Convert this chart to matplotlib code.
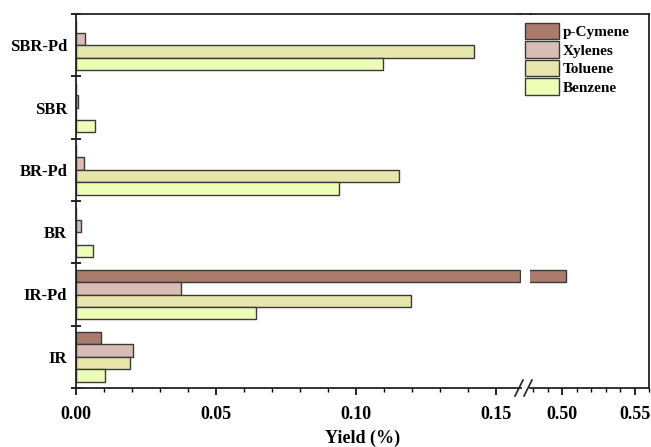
import numpy as np
import matplotlib
matplotlib.use("Agg")
import matplotlib.pyplot as plt
from matplotlib.lines import Line2D

plt.rcParams['font.family'] = ['Liberation Serif', 'DejaVu Serif']
plt.rcParams['font.weight'] = 'bold'

samples = ['IR', 'IR-Pd', 'BR', 'BR-Pd', 'SBR', 'SBR-Pd']
cymene = [0.009, 0.503, 0.0, 0.0, 0.0, 0.0]
xylenes = [0.0207, 0.0377, 0.0019, 0.0032, 0.001, 0.0035]
toluene = [0.0195, 0.1197, 0.0, 0.1155, 0.0, 0.1422]
benzene = [0.0107, 0.0644, 0.0064, 0.0941, 0.0069, 0.1097]

series = [('p-Cymene', cymene, '#a97c6c'),
          ('Xylenes', xylenes, '#d8bdb7'),
          ('Toluene', toluene, '#e6e5ab'),
          ('Benzene', benzene, '#ecfdb6')]
offsets = [0.3, 0.1, -0.1, -0.3]

fig = plt.figure(figsize=(6.51, 4.47), dpi=100)
W, H = 651.0, 447.0
bot = 1 - 388 / H
top = 1 - 14 / H
# broken x axis: left part 0..0.159, right part 0.478..0.5588
left_max = 0.159
ax1 = fig.add_axes([75.5 / W, bot, (521 - 75.5) / W, top - bot])
ax2 = fig.add_axes([530 / W, bot, (649 - 530) / W, top - bot])

y = np.arange(len(samples))
for ax in (ax1, ax2):
    for (name, vals, col), off in zip(series, offsets):
        vals = np.array(vals)
        if ax is ax1:
            # close the bar at the break, like the original
            vals = np.minimum(vals, left_max - 0.0004)
        ax.barh(y + off, vals, height=0.2, color=col, edgecolor='#3a3a3a',
                linewidth=1.0, label=name)
    ax.set_ylim(-0.5, 5.5)

ax1.set_xlim(0, left_max)
ax2.set_xlim(0.4779, 0.5588)

ax1.set_xticks([0, 0.05, 0.10, 0.15])
ax1.set_xticks(np.arange(0, 0.16, 0.01), minor=True)
ax2.set_xticks([0.50, 0.55])
ax2.set_xticks(np.arange(0.48, 0.56, 0.01), minor=True)
for ax in (ax1, ax2):
    ax.xaxis.set_major_formatter(matplotlib.ticker.FormatStrFormatter('%.2f'))
    ax.tick_params(axis='x', which='major', direction='out', length=5, width=1.2,
                   labelsize=13, pad=8)
    ax.tick_params(axis='x', which='minor', direction='out', length=3, width=1)
    for lab in ax.get_xticklabels():
        lab.set_fontweight('bold')

ax1.set_yticks(y)
ax1.set_yticklabels(samples, fontsize=12, fontweight='bold')
ax1.set_yticks(np.arange(-0.5, 5.6, 1.0), minor=True)
ax1.tick_params(axis='y', which='major', length=0, pad=6)
ax1.tick_params(axis='y', which='minor', direction='inout', length=7, width=1.2)
ax2.set_yticks([])

ax1.spines['right'].set_visible(False)
ax2.spines['left'].set_visible(False)
for ax in (ax1, ax2):
    for s in ax.spines.values():
        s.set_linewidth(1.3)
        s.set_color('#222222')

# join the top spine across the gap
fig.add_artist(Line2D([520 / W, 531 / W], [top, top], color='#222222', lw=1.3))
# break marks on the bottom axis
for x0 in (515, 524):
    fig.add_artist(Line2D([x0 / W, (x0 + 8) / W], [1 - 396 / H, 1 - 380 / H],
                          color='#222222', lw=1.2))

fig.text((75.5 + 649) / 2 / W, 1 - 438 / H, 'Yield (%)', ha='center', va='center',
         fontsize=13, fontweight='bold')

ax2.legend(loc='upper right', bbox_to_anchor=(0.93, 1.005), frameon=False,
           fontsize=11, handlelength=2.2, handleheight=1.3, labelspacing=0.12,
           handletextpad=0.3, borderaxespad=0.3)
leg = ax2.get_legend()
for t in leg.get_texts():
    t.set_fontweight('bold')

fig.savefig('out.png', dpi=100)
